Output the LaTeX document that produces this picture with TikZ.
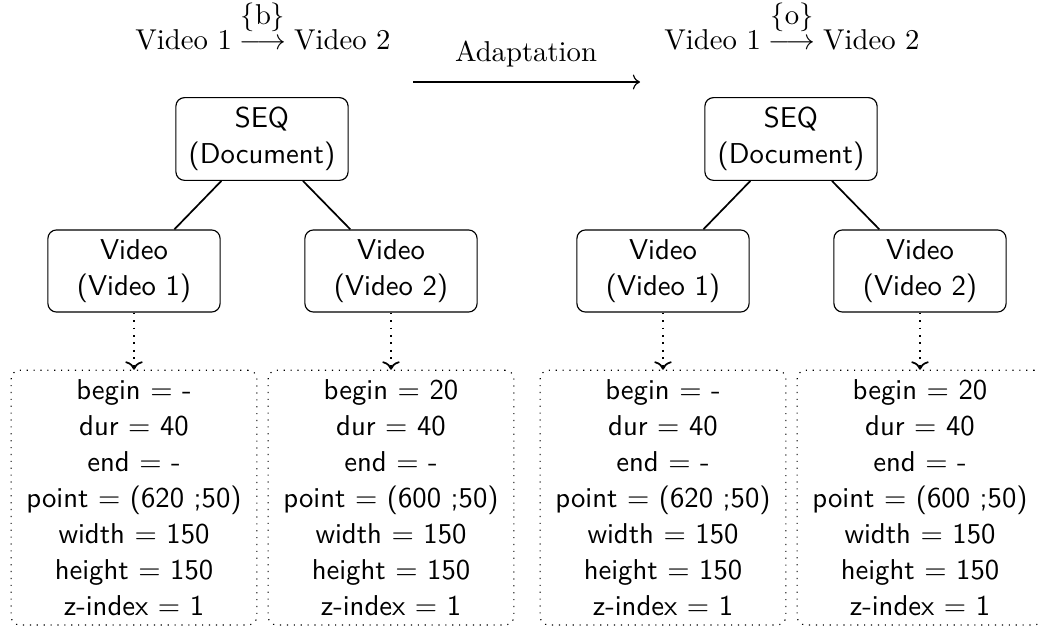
\documentclass[tikz,border=0pt]{standalone}
\usepackage{amsmath}
\usetikzlibrary{positioning,arrows.meta}
\begin{document}
\begin{tikzpicture}[x=0.3484pt,y=-0.3484pt]
\tikzset{elem/.style={draw,rounded corners=3pt,align=center,minimum width=60pt,font=\sffamily\fontsize{10}{12.5}\selectfont}}
\tikzset{attr/.style={draw,dotted,rounded corners=3pt,align=center,minimum width=85.6pt,font=\sffamily\fontsize{10}{12.5}\selectfont}}
\useasboundingbox (0,0) rectangle (1038,627);
% before and after adaptation
\foreach \s/\op/\t in {0/b/L,529/o/R}{
\begin{scope}[shift={(\s,0)}]
\node[anchor=base] (title\t) at (263,50) {$\text{Video 1}\overset{\displaystyle\{\mathrm{\op}\}\rule[-4.1pt]{0pt}{4.1pt}}{\longrightarrow}\text{Video 2}$};
\node[elem] (seq\t) at (262,139) {SEQ\\(Document)};
\node[elem] (va\t) at (134,271) {Video\\(Video 1)};
\node[elem] (vb\t) at (391,271) {Video\\(Video 2)};
\node[attr,below=19.9pt of va\t] (pa\t) {begin $=$ -\\dur $=$ 40\\end $=$ -\\point $=$ (620 ;50)\\width $=$ 150\\height $=$ 150\\z-index $=$ 1};
\node[attr,below=19.9pt of vb\t] (pb\t) {begin $=$ 20\\dur $=$ 40\\end $=$ -\\point $=$ (600 ;50)\\width $=$ 150\\height $=$ 150\\z-index $=$ 1};
\draw[semithick] (seq\t) -- (va\t);
\draw[semithick] (seq\t) -- (vb\t);
\draw[->,dotted,semithick] (va\t) -- (pa\t);
\draw[->,dotted,semithick] (vb\t) -- (pb\t);
\end{scope}
}
% adaptation arrow
\node[anchor=base] (adapt) at (526,62) {Adaptation};
\coordinate (adapt0) at (413,82);
\coordinate (adapt1) at (640,82);
\draw[->] (adapt0) -- (adapt1);
\end{tikzpicture}
\end{document}
